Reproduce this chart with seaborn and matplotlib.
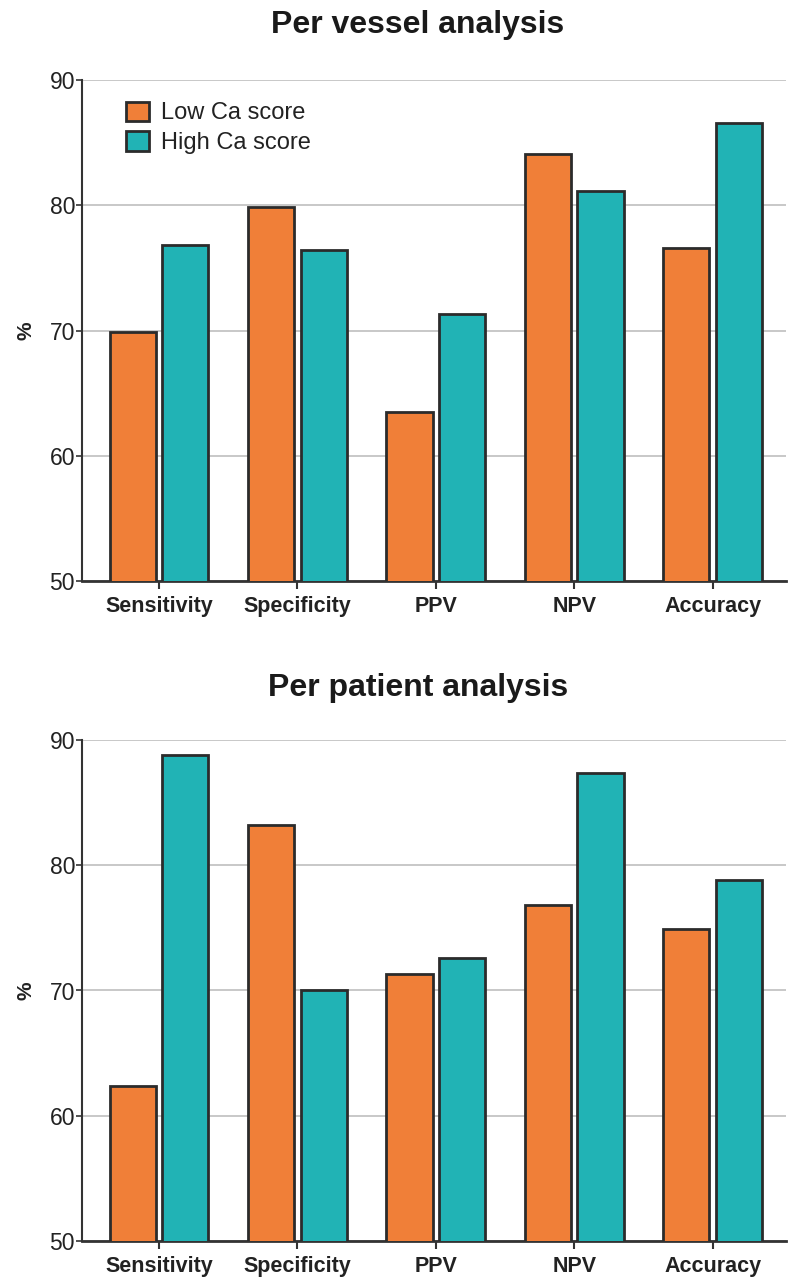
import matplotlib
matplotlib.use("Agg")
import matplotlib.pyplot as plt
from matplotlib.patches import Patch
import seaborn as sns
import pandas as pd

categories = ["Sensitivity", "Specificity", "PPV", "NPV", "Accuracy"]
groups = ["Low Ca score", "High Ca score"]
vessel_low = [69.9, 79.9, 63.5, 84.1, 76.6]
vessel_high = [76.8, 76.4, 71.3, 81.1, 86.6]
patient_low = [62.4, 83.2, 71.3, 76.8, 74.9]
patient_high = [88.8, 70.0, 72.6, 87.4, 78.8]
titles = ["Per vessel analysis", "Per patient analysis"]
yticks = [50, 60, 70, 80, 90]

colors = {"Low Ca score": "#F07F38", "High Ca score": "#21B3B5"}
edge = "#2b2b2b"

sns.set_theme(style="white")
plt.rcParams["font.family"] = ["Liberation Sans", "DejaVu Sans"]

def make_df(low, high):
    rows = []
    for c, v in zip(categories, low):
        rows.append({"cat": c, "grp": groups[0], "val": v})
    for c, v in zip(categories, high):
        rows.append({"cat": c, "grp": groups[1], "val": v})
    return pd.DataFrame(rows)

fig = plt.figure(figsize=(8, 12.88), dpi=100)
W, H = 800, 1288
ax_left, ax_right = 82, 786
boxes = [(80, 581), (740, 1241)]
title_y = [25, 688]

datasets = [(vessel_low, vessel_high), (patient_low, patient_high)]

for i, ((low, high), (ytop, ybot)) in enumerate(zip(datasets, boxes)):
    ax = fig.add_axes([ax_left / W, 1 - ybot / H, (ax_right - ax_left) / W, (ybot - ytop) / H])
    df = make_df(low, high)
    sns.barplot(data=df, x="cat", y="val", hue="grp", order=categories,
                hue_order=groups, palette=colors, saturation=1, width=0.76, gap=0.12,
                edgecolor=edge, linewidth=2, errorbar=None, legend=False,
                ax=ax, zorder=3)
    ax.set_ylim(50, 90)
    ax.set_xlim(-0.556, 4.53)
    ax.set_yticks(yticks)
    ax.set_yticklabels([str(t) for t in yticks], fontsize=16.5, color="#222222")
    ax.set_xticks(range(len(categories)))
    ax.set_xticklabels(categories, fontsize=15.5, fontweight="bold", color="#222222")
    ax.yaxis.grid(True, color="#c4c4c4", linewidth=1.3, zorder=0)
    ax.xaxis.grid(False)
    ax.set_axisbelow(True)
    for s in ["top", "right"]:
        ax.spines[s].set_visible(False)
    ax.spines["left"].set_color("#333333")
    ax.spines["left"].set_linewidth(1.5)
    ax.spines["bottom"].set_color("#333333")
    ax.spines["bottom"].set_linewidth(2)
    ax.tick_params(axis="x", which="major", bottom=True, length=6, width=1.5,
                   color="#333333", pad=5)
    ax.tick_params(axis="y", which="major", left=True, length=4, width=1.2,
                   color="#333333", pad=1)
    ax.set_xlabel("")
    ax.set_ylabel("%", fontsize=15, fontweight="bold", color="#222222", labelpad=10)
    fig.text(418 / W, 1 - title_y[i] / H, titles[i], ha="center", va="center",
             fontsize=23, fontweight="bold", color="#1a1a1a")
    if i == 0:
        handles = [Patch(facecolor=colors[g], edgecolor=edge, linewidth=2) for g in groups]
        ax.legend(handles, groups, loc="upper left", bbox_to_anchor=(0.063, 0.957),
                  frameon=False, fontsize=17, handlelength=0.95, handleheight=0.9,
                  handletextpad=0.5, labelspacing=0.28, borderpad=0, borderaxespad=0,
                  labelcolor="#222222")

fig.savefig("out.png", dpi=100)
